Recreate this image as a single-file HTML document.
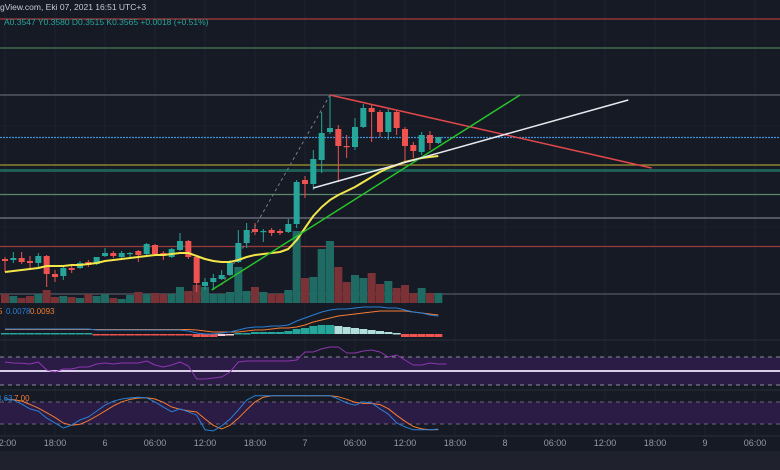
<!DOCTYPE html>
<html><head><meta charset="utf-8">
<style>
html,body{margin:0;padding:0;background:#161a25;}
#wrap{position:relative;width:780px;height:470px;overflow:hidden;background:#161a25;font-family:"Liberation Sans",sans-serif;}
svg{position:absolute;left:0;top:0;}
</style></head>
<body>
<div id="wrap">
<svg id="chart" width="780" height="470" xmlns="http://www.w3.org/2000/svg"></svg>
</div>
<script>
// ---- data ----
const opens  = [.2964,.2960,.2968,.2956,.2948,.2976,.2904,.2896,.2928,.2928,.2952,.2944,.2976,.2988,.2972,.2984,.2996,.2984,.3020,.2988,.2972,.3000,.3036,.2972,.2856,.2872,.2884,.2900,.2952,.3028,.3084,.3072,.3080,.3076,.3072,.3104,.3280,.3264,.3360,.3472,.3484,.3416,.3412,.3492,.3568,.3552,.3472,.3552,.3484,.3420,.3392,.3460,.3428];
const highs  = [.2972,.2992,.2992,.2976,.2988,.2980,.2920,.2936,.2936,.2956,.2960,.2972,.3008,.2996,.2996,.2992,.3000,.3028,.3024,.2996,.3008,.3068,.3040,.2976,.2888,.2904,.2920,.2960,.3080,.3108,.3108,.3084,.3088,.3084,.3124,.3280,.3296,.3400,.3552,.3620,.3500,.3460,.3528,.3584,.3584,.3560,.3568,.3560,.3492,.3432,.3472,.3476,.3452];
const lows   = [.2912,.2948,.2944,.2928,.2932,.2852,.2872,.2880,.2908,.2924,.2932,.2940,.2972,.2968,.2968,.2972,.2952,.2980,.2976,.2960,.2968,.2996,.2964,.2832,.2840,.2840,.2880,.2896,.2948,.3008,.3060,.3032,.3056,.3060,.3068,.3088,.3208,.3240,.3308,.3464,.3272,.3368,.3400,.3488,.3432,.3452,.3440,.3460,.3352,.3368,.3380,.3400,.3424];
const closes = [.2956,.2968,.2952,.2948,.2976,.2904,.2892,.2928,.2920,.2948,.2940,.2972,.2988,.2976,.2988,.2988,.2980,.3024,.2984,.2976,.3004,.3036,.2972,.2868,.2872,.2888,.2900,.2948,.3028,.3080,.3072,.3076,.3068,.3068,.3104,.3272,.3264,.3364,.3468,.3488,.3416,.3414,.3492,.3568,.3552,.3472,.3552,.3488,.3416,.3396,.3460,.3428,.3452];
const volumes = [9,7,5,7,9,13,6,7,6,5,9,7,9,5,4,8,11,9,10,9,9,16,12,18,16,9,9,11,36,12,16,11,9,9,13,72,25,26,54,62,36,21,28,25,30,19,22,15,18,10,15,10,10];
const emaVals = [.2912,.2916,.2920,.2924,.2928,.2936,.2936,.2936,.2940,.2940,.2944,.2948,.2956,.2960,.2964,.2968,.2972,.2976,.2980,.2980,.2984,.2988,.2988,.2976,.2964,.2956,.2952,.2952,.2960,.2972,.2980,.2984,.2988,.2992,.3004,.3040,.3088,.3136,.3172,.3200,.3220,.3236,.3252,.3272,.3292,.3312,.3328,.3340,.3352,.3360,.3368,.3372,.3376];
const macdUnits = [5,5,5,5,5,5,5,5,5,5,5,4,4,4,4,4,4,4,4,4,4,4,3,1,0,0,1,2,4,6,7,7,8,8,9,13,16,19,22,24,25,25,26,27,27,27,26,26,24,22,21,19,18];
const signalUnits = [4.5,4.5,4.5,4.5,4.5,4.5,4.5,4.5,4.5,4.5,4.5,4.5,4.5,4.5,4.5,4.5,4.5,4.5,4.5,4.5,4.5,4.5,4.5,4,3,2,2,2,2,3,4,4,5,6,6,7,9,12,14,16,18,19,20,21,22,23,23,23,23,22,21,20,19];
const histUnits = [1,1,1,1,1,1,1,1,1,1,1,-1,-1,-1,-1,-1,-1,-1,-1,-1,-1,-1,-1,-3,-3,-3,-2,-1,1,1,2,2,2,2,3,5,6,8,9,9,8,7,6,5,4,3,2,1,-3,-3,-3,-3,-3];
const rsiVals = [62.9,61.4,61,60,62.9,51.4,48.6,52.9,52.9,55.7,55.7,60,61.4,60,61.4,61.4,61.4,64.3,58.6,55.7,58.6,62.9,57.1,38.6,38.6,40,41.4,48.6,62.9,64.3,64.3,64.3,64.3,64.3,64.3,65.7,77.2,77.2,81.5,84.3,84.3,75.7,75.7,78.6,80,77.2,70,72.9,65.7,58.6,58.6,61.4,60,60];
const stochK = [88,85,74,61,55,36,23,9,17,31,39,55,71,82,88,91,93,91,80,66,53,61,53,44,4,1,15,33,58,85,97,97,97,97,97,97,97,97,97,97,88,77,71,80,77,61,47,23,12,4,4,4,6];
const levelPrices = [.3924,.3808,.3620,.3450,.3340,.3318,.3222,.3128,.3014,.2824];
const levelColors = ["#a83a3c","#4d7a58","#60636e","#3d8fd6","#a4962e","#1e5e56","#58876a","#787b86","#9a3a3c","#555862"];
const tickIdx = [0,6,12,18,24,30,36,42,48,54,60,66,72,78,84,90];
const tickLabels = ["12:00","18:00","6","06:00","12:00","18:00","7","06:00","12:00","18:00","8","06:00","12:00","18:00","9","06:00"];
// drawings as [index, price]
const redLine = [[39,.362],[77.6,.3328]];
const greenLine = [[24.8,.284],[61.8,.362]];
const whiteLine = [[37,.3248],[74.8,.360]];
const dottedLine = [[26,.286],[39,.362]];

// ---- axes ----
const X = i => 5 + 8.333*i;
const Y = p => (0.4 - p)/0.0004;
const VY = v => 303 - v;
const MY = u => 334 - u;
const RY = v => 371 - (v-50)*0.7;
const SY = v => 431.3 - v*0.367;

const svg = document.getElementById('chart');
const NS = "http://www.w3.org/2000/svg";
function mk(tag, attrs, parent){
  const e = document.createElementNS(NS, tag);
  for (const k in attrs) e.setAttribute(k, attrs[k]);
  (parent||svg).appendChild(e);
  return e;
}
function poly(vals, fy, color, w, name){
  const pts = vals.map((v,i)=>X(i).toFixed(1)+","+fy(v).toFixed(1)).join(" ");
  const e = mk('polyline',{points:pts,fill:'none',stroke:color,'stroke-width':w,'stroke-linejoin':'round'});
  
  
  return e;
}

let r = mk('rect',{x:0,y:451,width:780,height:19,fill:'#1f222c'});



tickIdx.forEach((ti,k)=>{
  const g = mk('line',{x1:X(ti),x2:X(ti),y1:0,y2:436,stroke:'#1f2330','stroke-width':1});
  
  
});
[126,227].forEach(yy=>{
  const g = mk('line',{x1:0,x2:780,y1:yy,y2:yy,stroke:'#1c202b','stroke-width':1});
  
  
});

[340,390,436].forEach(yy=>{
  const s = mk('line',{x1:0,x2:780,y1:yy,y2:yy,stroke:'#2a2e39','stroke-width':1});
  
  
});

levelPrices.forEach((p,k)=>{
  const attrs = {x1:0,x2:780,y1:Y(p),y2:Y(p),stroke:levelColors[k],'stroke-width':k===5?3:1.2};
  if (k===3) attrs['stroke-dasharray']='2,1';
  const l = mk('line',attrs);
  
  
});

volumes.forEach((v,i)=>{
  const up = closes[i]>=opens[i];
  const b = mk('rect',{x:X(i)-4,y:VY(v),width:8,height:v,fill:up?'#1f6b63':'#7a3236'});
  
  
});

opens.forEach((o,i)=>{
  const c = closes[i], up = c>=o, col = up?'#26a69a':'#ef5350';
  const w = mk('line',{x1:X(i),x2:X(i),y1:Y(highs[i]),y2:Y(lows[i]),stroke:col,'stroke-width':1});
  
  
  const top = Y(Math.max(o,c)), h = Math.max(1.2, Math.abs(Y(o)-Y(c)));
  const b = mk('rect',{x:X(i)-3,y:top,width:6,height:h,fill:col});
  
  
});

poly(emaVals, Y, '#f2e64a', 2, 'ema-line');

function seg(pts, color, w, name, dash){
  const a = {x1:X(pts[0][0]),y1:Y(pts[0][1]),x2:X(pts[1][0]),y2:Y(pts[1][1]),stroke:color,'stroke-width':w};
  if (dash) a['stroke-dasharray']=dash;
  const l = mk('line',a);
  
  
}
seg(dottedLine,'#787b86',1,'dotted-trend-line','3,3');
seg(redLine,'#e0474b',1.5,'red-trend-line');
seg(greenLine,'#27c22a',1.5,'green-trend-line');
seg(whiteLine,'#e8e8ee',1.5,'white-trend-line');

histUnits.forEach((h,i)=>{
  const prev = i>0?histUnits[i-1]:h;
  let col;
  if (h>=0) col = h>=prev ? '#26a69a' : '#b2dfdb';
  else col = h<=prev ? '#ef5350' : '#ffcdd2';
  const b = mk('rect',{x:X(i)-4,y:Math.min(MY(h),MY(0)),width:8,height:Math.max(1.5,Math.abs(h)),fill:col});
  
  
});
poly(signalUnits, MY, '#f57c32', 1, 'macd-signal-line');
poly(macdUnits, MY, '#2a7fd4', 1, 'macd-line');

let rb = mk('rect',{x:0,y:RY(70),width:780,height:RY(30)-RY(70),fill:'#2a1c45'});


[70,30].forEach(v=>{
  const l = mk('line',{x1:0,x2:780,y1:RY(v),y2:RY(v),stroke:'#8a8d96','stroke-dasharray':'4,4','stroke-width':1});
  
  
});
let rm = mk('line',{x1:0,x2:780,y1:RY(50),y2:RY(50),stroke:'#d8cde6','stroke-width':2});


poly(rsiVals, RY, '#8e36b0', 1, 'rsi-line');

let sb = mk('rect',{x:0,y:SY(80),width:780,height:SY(20)-SY(80),fill:'#2a1c45'});


[80,20].forEach(v=>{
  const l = mk('line',{x1:0,x2:780,y1:SY(v),y2:SY(v),stroke:'#6c6580','stroke-dasharray':'4,4','stroke-width':1});
  
  
});
const stochD = stochK.map((v,i)=>{const a=stochK.slice(Math.max(0,i-2),i+1);return a.reduce((s,x)=>s+x,0)/a.length;});
poly(stochD, SY, '#f57c32', 1, 'stoch-d-line');
poly(stochK, SY, '#2a7fd4', 1, 'stoch-k-line');

tickIdx.forEach((ti,k)=>{
  const t = mk('text',{x:X(ti),y:446,'text-anchor':'middle','font-size':'9','fill':'#9598a1','font-family':'Liberation Sans, sans-serif'});
  t.textContent = tickLabels[k];
  
  
});

function txt(x,y,s,fill,name,fs){
  const t = mk('text',{x:x,y:y,'font-size':fs||'8.5',fill:fill,'font-family':'Liberation Sans, sans-serif'});
  t.textContent = s;
  
  
  return t;
}
txt(0,10,'gView.com, Eki 07, 2021 16:51 UTC+3','#c8cad2','chart-header-title');
txt(4,25,'A0.3547  Y0.3580  D0.3515  K0.3565  +0.0018 (+0.51%)','#26a69a','ohlc-legend');
txt(-2,314,'5','#f57c32','macd-legend-a','8');
txt(6,314,'0.0078','#2a7fd4','macd-legend-value','8');
txt(30,314,'0.0093','#f57c32','macd-legend-signal','8');
txt(-3,401,'4.63','#2a7fd4','stoch-legend-k','8');
txt(14,401,'7.00','#f57c32','stoch-legend-d','8');
</script>
</body></html>
